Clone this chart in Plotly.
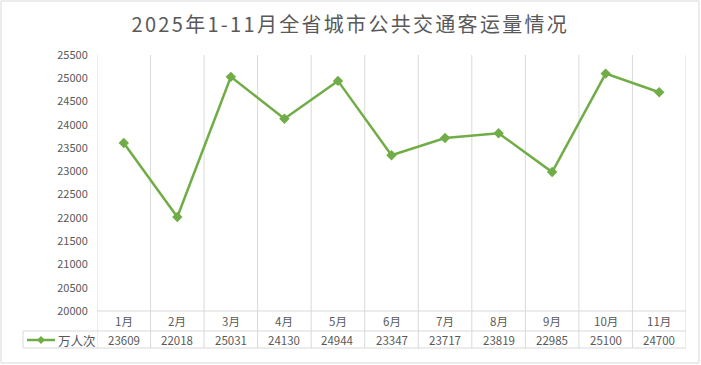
import plotly.graph_objects as go

months = ["1月", "2月", "3月", "4月", "5月", "6月", "7月", "8月", "9月", "10月", "11月"]
passengers = [23609, 22018, 25031, 24130, 24944, 23347, 23717, 23819, 22985, 25100, 24700]
series_name = "万人次"
title_text = "2025年1-11月全省城市公共交通客运量情况"
y_ticks = list(range(20000, 25501, 500))

W, H = 701, 365
L, R, T, B = 97, 15, 55, 54
pw, ph = W - L - R, H - T - B

def px(x):
    return (x - L) / pw

def py(y):
    return (H - B - y) / ph

GREEN = "#70AD47"
GRID = "#d9d9d9"
TXT = "#595959"
FONT = "Noto Sans CJK SC"

xs = list(range(len(months)))

fig = go.Figure()
fig.add_trace(go.Scatter(
    x=xs, y=passengers, mode="lines+markers",
    line=dict(color=GREEN, width=2.5),
    marker=dict(symbol="diamond", size=8, color=GREEN),
    hoverinfo="skip", showlegend=False, cliponaxis=False,
))

shapes = []
shapes.append(dict(type="rect", xref="paper", yref="paper",
                   x0=px(1), x1=px(699), y0=py(363), y1=py(1),
                   line=dict(color=GRID, width=1), layer="below"))
for i in range(len(months) + 1):
    shapes.append(dict(type="line", xref="x", yref="paper",
                       x0=i - 0.5, x1=i - 0.5, y0=py(348), y1=1,
                       line=dict(color=GRID, width=1), layer="below"))
shapes.append(dict(type="line", xref="paper", yref="paper",
                   x0=0, x1=1, y0=0, y1=0, line=dict(color=GRID, width=1), layer="below"))
for yy in (331, 348):
    shapes.append(dict(type="line", xref="paper", yref="paper",
                       x0=px(23), x1=1, y0=py(yy), y1=py(yy),
                       line=dict(color=GRID, width=1), layer="below"))
shapes.append(dict(type="line", xref="paper", yref="paper",
                   x0=px(23), x1=px(23), y0=py(348), y1=py(331),
                   line=dict(color=GRID, width=1), layer="below"))
shapes.append(dict(type="line", xref="paper", yref="paper",
                   x0=px(27), x1=px(55), y0=py(340), y1=py(340),
                   line=dict(color=GREEN, width=2.5)))
cx, cy, d = 41, 340, 4
path = "M {} {} L {} {} L {} {} L {} {} Z".format(
    px(cx), py(cy - d), px(cx + d), py(cy), px(cx), py(cy + d), px(cx - d), py(cy))
shapes.append(dict(type="path", xref="paper", yref="paper", path=path,
                   fillcolor=GREEN, line=dict(color=GREEN, width=0)))

annotations = []
for i, (m, v) in enumerate(zip(months, passengers)):
    annotations.append(dict(x=i, y=py(321), xref="x", yref="paper", text=m,
                            showarrow=False, font=dict(family=FONT, size=11.5, color=TXT),
                            xanchor="center", yanchor="middle"))
    annotations.append(dict(x=i, y=py(340), xref="x", yref="paper", text=str(v),
                            showarrow=False, font=dict(family=FONT, size=11.5, color=TXT),
                            xanchor="center", yanchor="middle"))
annotations.append(dict(x=px(77), y=py(340), xref="paper", yref="paper", text=series_name,
                        showarrow=False, font=dict(family=FONT, size=12.5, color=TXT),
                        xanchor="center", yanchor="middle"))
annotations.append(dict(x=px(350), y=py(23), xref="paper", yref="paper", text=title_text,
                        showarrow=False, font=dict(family=FONT, size=20, color=TXT),
                        xanchor="center", yanchor="middle", name="charttitle"))

fig.update_layout(
    width=W, height=H,
    margin=dict(l=L, r=R, t=T, b=B),
    paper_bgcolor="white", plot_bgcolor="white",
    xaxis=dict(range=[-0.5, len(months) - 0.5], showgrid=False, zeroline=False,
               showticklabels=False, showline=False, fixedrange=True),
    yaxis=dict(range=[20000, 25500], tickvals=y_ticks, ticktext=[str(t) for t in y_ticks],
               showgrid=False, zeroline=False, showline=False,
               ticks="outside", ticklen=6, tickcolor="rgba(0,0,0,0)",
               tickfont=dict(family=FONT, size=11, color=TXT), fixedrange=True),
    shapes=shapes, annotations=annotations,
)

post = """
document.body.style.margin = '0';
document.body.style.padding = '0';
document.querySelectorAll('.annotation-text').forEach(function(el){
  if (el.textContent.indexOf('全省') >= 0) { el.style.letterSpacing = '2.3px'; }
});
"""

fig.write_html("out.html", post_script=post, config={"displayModeBar": False, "staticPlot": True})
